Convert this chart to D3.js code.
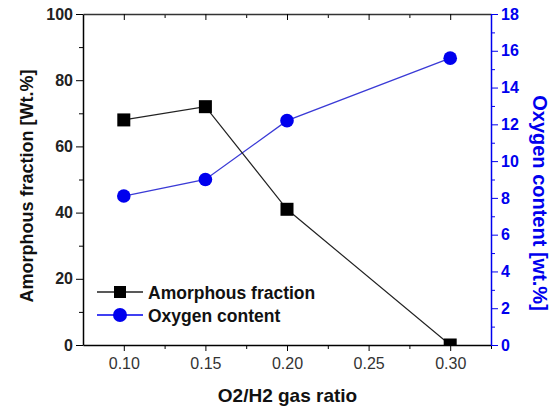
<!DOCTYPE html>
<html>
<head>
<meta charset="UTF-8">
<title></title>
<style>
    body { margin: 0; background: #fff; font-family: Arial, 'Liberation Sans', sans-serif; }
    .tick text { font-family: Arial, 'Liberation Sans', sans-serif; }
</style>
</head>
<body>
<svg id="chart" width="555" height="407"></svg>
<script src="https://cdn.jsdelivr.net/npm/d3@7"></script>
<script>
    /// data
    var ratios = [0.10, 0.15, 0.20, 0.30];
    var amorphous = [68, 72, 41, 0];
    var oxygen = [8.1, 9.0, 12.2, 15.6];
    var xTicks = [0.10, 0.15, 0.20, 0.25, 0.30];
    var blue = "#0000ee";

    /// layout
    var margin = { top: 14, right: 64, bottom: 62, left: 83 };
    var width = 555 - margin.left - margin.right,
        height = 407 - margin.top - margin.bottom;

    var svg = d3.select("#chart");
    var g = svg.append("g")
        .attr("transform", "translate(" + margin.left + "," + margin.top + ")");

    svg.append("defs").append("clipPath").attr("id", "plotclip")
        .append("rect").attr("width", width).attr("height", height);

    var x = d3.scaleLinear().domain([0.075, 0.325]).range([0, width]);
    var yL = d3.scaleLinear().domain([0, 100]).range([height, 0]);
    var yR = d3.scaleLinear().domain([0, 18]).range([height, 0]);

    // minor ticks first
    g.append("g").attr("transform", "translate(0," + height + ")")
        .call(d3.axisBottom(x).tickValues(d3.range(0.125, 0.33, 0.05)).tickSize(4).tickFormat(""))
        .call(a => a.select(".domain").remove());
    g.append("g")
        .call(d3.axisTop(x).tickValues(d3.range(0.125, 0.33, 0.05)).tickSize(-4).tickFormat(""))
        .call(a => a.select(".domain").remove());
    g.append("g")
        .call(d3.axisLeft(yL).tickValues(d3.range(10, 100, 20)).tickSize(4).tickFormat(""))
        .call(a => a.select(".domain").remove());
    g.append("g").attr("transform", "translate(" + width + ",0)")
        .call(d3.axisRight(yR).tickValues(d3.range(1, 18, 2)).tickSize(4).tickFormat(""))
        .call(a => a.select(".domain").remove())
        .selectAll("line").attr("stroke", blue);

    // lines and markers, clipped to the plot area
    var plot = g.append("g").attr("clip-path", "url(#plotclip)");
    var lineA = d3.line().x((d, i) => x(ratios[i])).y(d => yL(d));
    var lineO = d3.line().x((d, i) => x(ratios[i])).y(d => yR(d));

    plot.append("path").datum(oxygen).attr("d", lineO)
        .attr("fill", "none").attr("stroke", "#3a3ad6").attr("stroke-width", 1.3);
    plot.append("path").datum(amorphous).attr("d", lineA)
        .attr("fill", "none").attr("stroke", "#222").attr("stroke-width", 1.2);

    plot.selectAll(".sq").data(amorphous).enter().append("rect")
        .attr("x", (d, i) => x(ratios[i]) - 6.5)
        .attr("y", d => yL(d) - 6.5)
        .attr("width", 13).attr("height", 13)
        .attr("fill", "#000");
    plot.selectAll(".dot").data(oxygen).enter().append("circle")
        .attr("cx", (d, i) => x(ratios[i]))
        .attr("cy", d => yR(d))
        .attr("r", 6.8)
        .attr("fill", blue);

    // bottom axis
    var xAxis = g.append("g").attr("transform", "translate(0," + height + ")")
        .call(d3.axisBottom(x).tickValues(xTicks).tickFormat(d3.format(".2f")).tickSize(6).tickSizeOuter(0));
    xAxis.selectAll("text").attr("font-size", 16).attr("fill", "#333").attr("dy", "0.95em");
    xAxis.select(".domain").attr("stroke-width", 1.5);

    // top axis
    var xTop = g.append("g")
        .call(d3.axisTop(x).tickValues(xTicks).tickFormat("").tickSize(-6).tickSizeOuter(0));
    xTop.select(".domain").attr("stroke-width", 1.5).attr("stroke", "#333");

    // left axis
    var yAxisL = g.append("g")
        .call(d3.axisLeft(yL).ticks(5).tickSize(7).tickSizeOuter(0));
    yAxisL.selectAll("text").attr("font-size", 16).attr("font-weight", "bold").attr("fill", "#222");
    yAxisL.select(".domain").attr("stroke-width", 1.5);

    // right axis
    var yAxisR = g.append("g").attr("transform", "translate(" + width + ",0)")
        .call(d3.axisRight(yR).tickValues(d3.range(0, 19, 2)).tickSize(7).tickSizeOuter(0));
    yAxisR.selectAll("text").attr("font-size", 16).attr("font-weight", "bold").attr("fill", blue);
    yAxisR.selectAll("line").attr("stroke", blue);
    yAxisR.select(".domain").attr("stroke", blue).attr("stroke-width", 1.5);

    // legend
    var legend = svg.append("g").attr("transform", "translate(97,292)");
    var items = [
        { label: "Amorphous fraction", color: "#222", shape: "sq" },
        { label: "Oxygen content", color: blue, shape: "dot" }
    ];
    items.forEach(function (it, i) {
        var row = legend.append("g").attr("transform", "translate(0," + (i * 23) + ")");
        row.append("line").attr("x1", 0).attr("x2", 46).attr("stroke", it.color).attr("stroke-width", 1.3);
        if (it.shape == "sq") {
            row.append("rect").attr("x", 17).attr("y", -6).attr("width", 12).attr("height", 12).attr("fill", "#000");
        } else {
            row.append("circle").attr("cx", 23).attr("r", 7).attr("fill", blue);
        }
        row.append("text").attr("x", 51).attr("y", 6.5)
            .attr("font-size", 17.5).attr("font-weight", "bold").attr("fill", "#111")
            .text(it.label);
    });

    // axis titles
    svg.append("text")
        .attr("transform", "translate(33,186) rotate(-90)")
        .attr("text-anchor", "middle")
        .attr("font-size", 18).attr("font-weight", "bold").attr("fill", "#111")
        .text("Amorphous fraction [Wt.%]");
    svg.append("text")
        .attr("transform", "translate(533,203) rotate(90)")
        .attr("text-anchor", "middle")
        .attr("font-size", 20).attr("font-weight", "bold").attr("fill", blue)
        .text("Oxygen content [wt.%]");
    svg.append("text")
        .attr("x", 287.5).attr("y", 402)
        .attr("text-anchor", "middle")
        .attr("font-size", 19).attr("font-weight", "bold").attr("fill", "#111")
        .text("O2/H2 gas ratio");
</script>
</body>
</html>
